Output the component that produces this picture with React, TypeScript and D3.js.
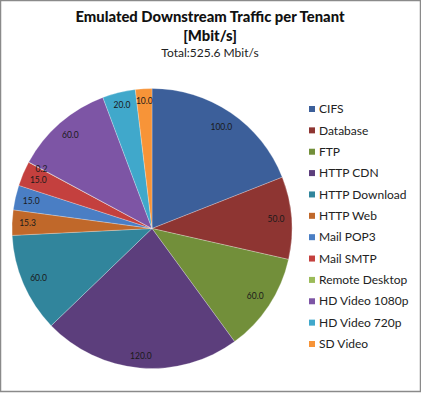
import React from "react";
import * as d3 from "d3";

const categories = [
  "CIFS", "Database", "FTP", "HTTP CDN", "HTTP Download", "HTTP Web",
  "Mail POP3", "Mail SMTP", "Remote Desktop", "HD Video 1080p", "HD Video 720p", "SD Video",
];
const values = [100.0, 50.0, 60.0, 120.0, 60.0, 15.3, 15.0, 15.0, 0.2, 60.0, 20.0, 10.0];
const colors = [
  "#3C5F9A", "#8E3532", "#728F3A", "#5C3E7C", "#31859C", "#C0682A",
  "#4A7EC4", "#C4403E", "#9BBB59", "#7D55A5", "#40A8CB", "#F79438",
];
const titleLines = ["Emulated Downstream Traffic per Tenant", "[Mbit/s]"];
const subtitle = "Total:525.6 Mbit/s";

const W = 421, H = 394;
const cx = 152, cy = 228.5, R = 140;
const FONT = "Lato, 'Open Sans', sans-serif";

export default function App() {
  const pie = d3.pie<number>().sort(null).value((d) => d).startAngle(0).endAngle(2 * Math.PI);
  const arcs = pie(values);
  const arcGen = d3.arc<d3.PieArcDatum<number>>().innerRadius(0).outerRadius(R);

  const labelPos = (a: d3.PieArcDatum<number>, text: string) => {
    const mid = (a.startAngle + a.endAngle) / 2;
    const ux = Math.sin(mid), uy = -Math.cos(mid);
    const w = text.length * 4.6 / 2, h = 5, lim = R - 6;
    let lo = 0, hi = R;
    for (let i = 0; i < 40; i++) {
      const d = (lo + hi) / 2;
      const px = Math.abs(d * ux) + w, py = Math.abs(d * uy) + h;
      if (Math.hypot(px, py) <= lim) lo = d; else hi = d;
    }
    return [cx + lo * ux, cy + lo * uy];
  };

  const yScale = d3.scalePoint<string>().domain(categories).range([109, 344]);

  return (
    <svg width={W} height={H} style={{ position: "absolute", left: 0, top: 0, background: "#fff" }} fontFamily={FONT}>
      <rect x={0.5} y={0.5} width={W - 1} height={391} fill="#fff" stroke="#8a8a8a" strokeWidth={1.5} />
      <text x={210} y={22} textAnchor="middle" fontSize={14.8} fontWeight={900} fill="#111">{titleLines[0]}</text>
      <text x={210} y={41} textAnchor="middle" fontSize={14.8} fontWeight={900} fill="#111">{titleLines[1]}</text>
      <text x={210} y={57} textAnchor="middle" fontSize={12} fill="#222">{subtitle}</text>
      <g>
        {arcs.map((a, i) => (
          <path key={i} d={arcGen(a) || ""} transform={`translate(${cx},${cy})`} fill={colors[i]} stroke="#ffffff" strokeOpacity={0.5} strokeWidth={0.5} />
        ))}
      </g>
      <g>
        {arcs.map((a, i) => {
          const t = values[i].toFixed(1);
          const [x, y] = labelPos(a, t);
          return (
            <text key={i} x={x} y={y} dy="0.35em" textAnchor="middle" fontSize={8.5} fill="#1a1a1a">{t}</text>
          );
        })}
      </g>
      <g>
        {categories.map((c, i) => {
          const y = yScale(c)!;
          return (
            <g key={c}>
              <rect x={309} y={y - 3} width={6} height={6} fill={colors[i]} />
              <text x={319} y={y} dy="0.35em" fontSize={12} fill="#222">{c}</text>
            </g>
          );
        })}
      </g>
    </svg>
  );
}
